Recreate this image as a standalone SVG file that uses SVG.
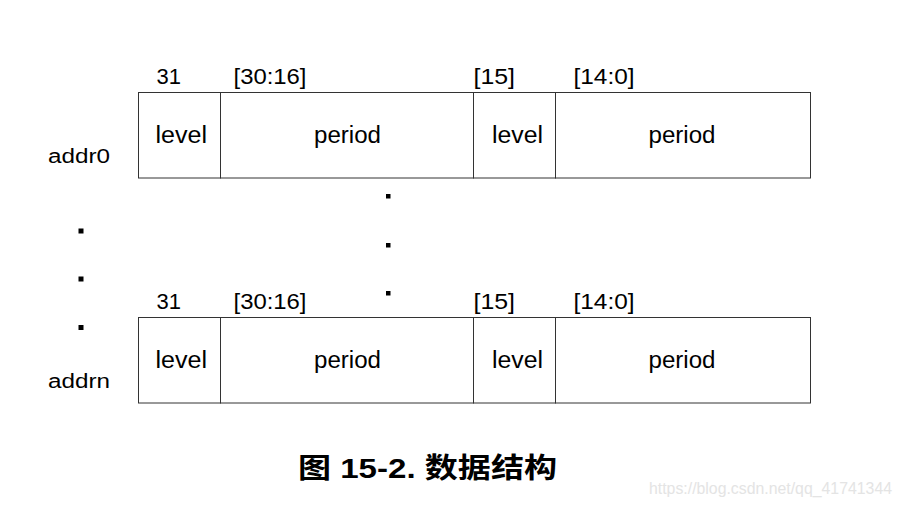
<svg xmlns="http://www.w3.org/2000/svg" width="902" height="505" viewBox="0 0 902 505">
<style>
.cell{fill:#fff;stroke:#333;stroke-width:1}
.t{font-family:"Liberation Sans",Arial,sans-serif;fill:#000}
.c{font-size:23px}
.b{font-size:22px}
.a{font-size:20px}
.dot{fill:#000}
.title{font-family:"Liberation Sans","Noto Sans CJK SC",sans-serif;font-weight:bold;font-size:28px;fill:#000}
.wm{font-family:"Liberation Sans",Arial,sans-serif;font-size:15.8px;fill:#e4e4e4}
</style>
<rect width="902" height="505" fill="#fff"/>
<g id="row0">
  <g id="row0-level-hi"><rect class="cell" x="138.5" y="92.5" width="82" height="85.5"/><text class="t c" x="155.5" y="143" textLength="51.5" lengthAdjust="spacingAndGlyphs">level</text></g>
  <g id="row0-period-hi"><rect class="cell" x="220.5" y="92.5" width="253" height="85.5"/><text class="t c" x="314" y="143" textLength="67" lengthAdjust="spacingAndGlyphs">period</text></g>
  <g id="row0-level-lo"><rect class="cell" x="473.5" y="92.5" width="82" height="85.5"/><text class="t c" x="492" y="143" textLength="51" lengthAdjust="spacingAndGlyphs">level</text></g>
  <g id="row0-period-lo"><rect class="cell" x="555.5" y="92.5" width="255" height="85.5"/><text class="t c" x="648.5" y="143" textLength="67" lengthAdjust="spacingAndGlyphs">period</text></g>
  <text class="t b" x="156.5" y="84">31</text>
  <text class="t b" x="233.5" y="84" textLength="73" lengthAdjust="spacingAndGlyphs">[30:16]</text>
  <text class="t b" x="473.5" y="84" textLength="41.5" lengthAdjust="spacingAndGlyphs">[15]</text>
  <text class="t b" x="573.5" y="84" textLength="61" lengthAdjust="spacingAndGlyphs">[14:0]</text>
  <text class="t a" x="48" y="163" textLength="62" lengthAdjust="spacingAndGlyphs">addr0</text>
</g>
<g id="rown">
  <g id="rown-level-hi"><rect class="cell" x="138.5" y="317.5" width="82" height="85.5"/><text class="t c" x="155.5" y="368" textLength="51.5" lengthAdjust="spacingAndGlyphs">level</text></g>
  <g id="rown-period-hi"><rect class="cell" x="220.5" y="317.5" width="253" height="85.5"/><text class="t c" x="314" y="368" textLength="67" lengthAdjust="spacingAndGlyphs">period</text></g>
  <g id="rown-level-lo"><rect class="cell" x="473.5" y="317.5" width="82" height="85.5"/><text class="t c" x="492" y="368" textLength="51" lengthAdjust="spacingAndGlyphs">level</text></g>
  <g id="rown-period-lo"><rect class="cell" x="555.5" y="317.5" width="255" height="85.5"/><text class="t c" x="648.5" y="368" textLength="67" lengthAdjust="spacingAndGlyphs">period</text></g>
  <text class="t b" x="156.5" y="309">31</text>
  <text class="t b" x="233.5" y="309" textLength="73" lengthAdjust="spacingAndGlyphs">[30:16]</text>
  <text class="t b" x="473.5" y="309" textLength="41.5" lengthAdjust="spacingAndGlyphs">[15]</text>
  <text class="t b" x="573.5" y="309" textLength="61" lengthAdjust="spacingAndGlyphs">[14:0]</text>
  <text class="t a" x="48" y="388" textLength="62" lengthAdjust="spacingAndGlyphs">addrn</text>
</g>
<g id="ellipsis">
  <rect class="dot" x="78.5" y="228.5" width="5" height="5"/>
  <rect class="dot" x="78.5" y="276.5" width="5" height="5"/>
  <rect class="dot" x="78.5" y="325" width="5" height="5"/>
  <rect class="dot" x="386" y="194" width="4.5" height="4.5"/>
  <rect class="dot" x="386" y="243" width="4.5" height="4.5"/>
  <rect class="dot" x="386" y="291" width="4.5" height="4.5"/>
</g>
<g id="connectors"></g>
<text class="title" x="298" y="478" textLength="259" lengthAdjust="spacingAndGlyphs">图 15-2. 数据结构</text>
<text class="wm" x="649" y="494" textLength="243" lengthAdjust="spacingAndGlyphs">https://blog.csdn.net/qq_41741344</text>
</svg>
